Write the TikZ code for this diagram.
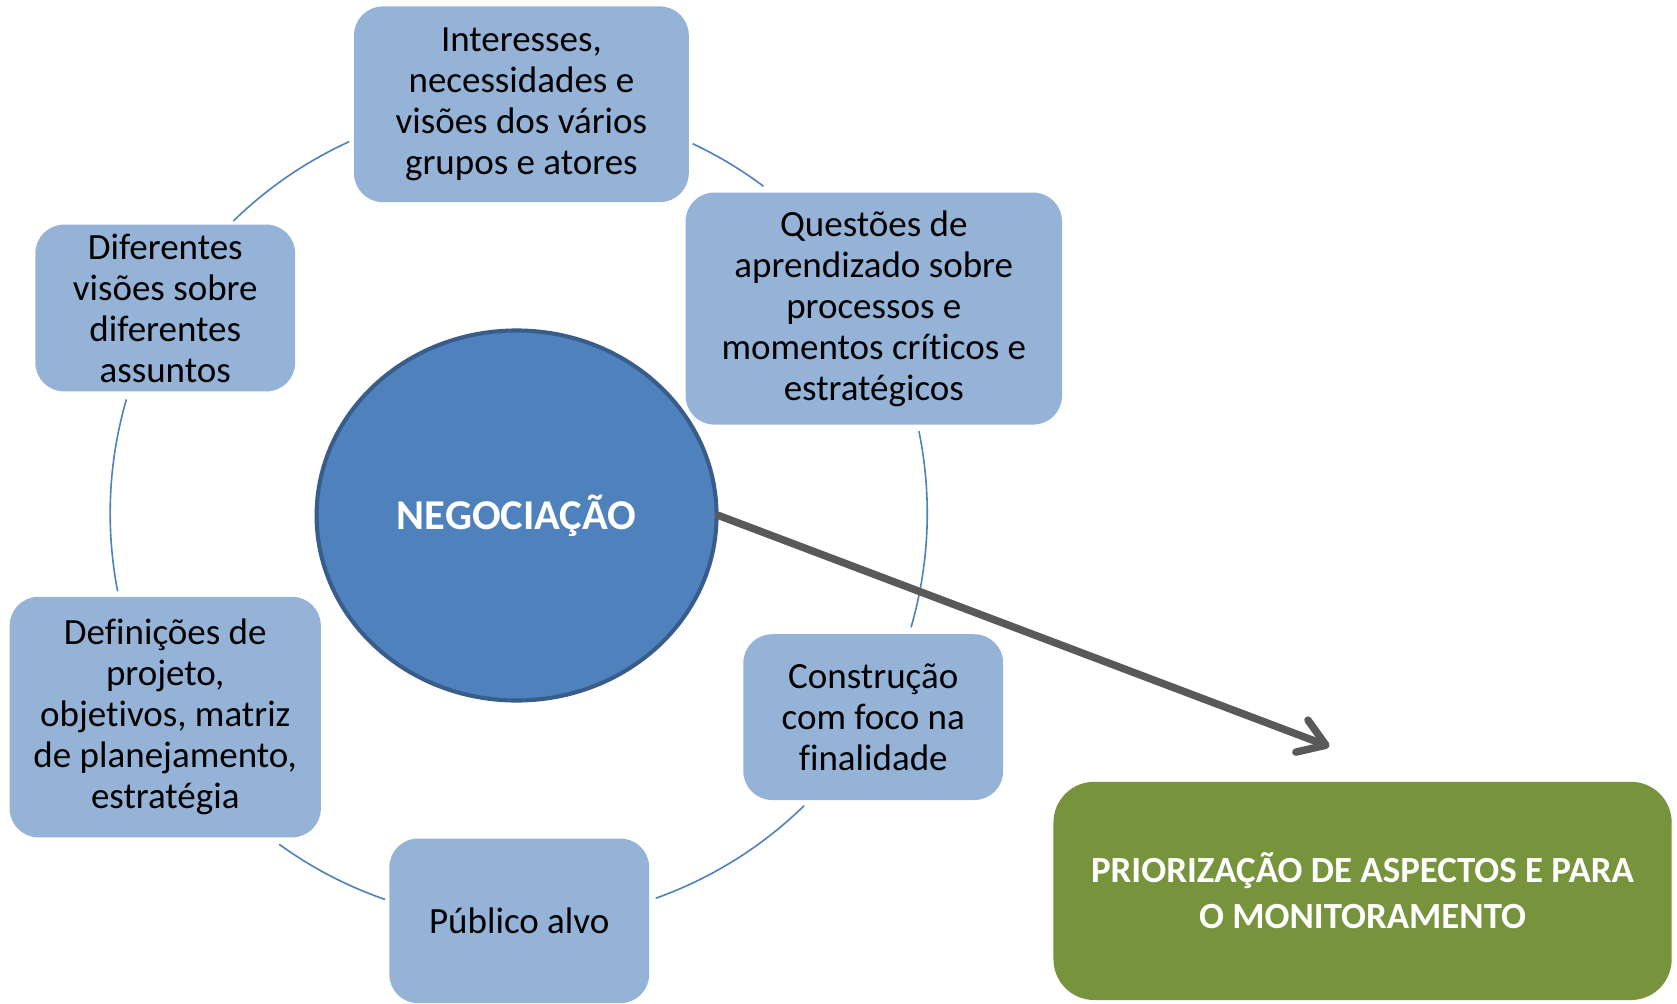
\documentclass[tikz,border=0pt]{standalone}
\usepackage{fontspec}
\setmainfont{Carlito}[Ligatures={NoCommon,NoContextual},RawFeature={-liga;-calt;-clig}]
\usetikzlibrary{arrows.meta,shapes.geometric}
\definecolor{boxblue}{HTML}{95B3D7}
\definecolor{ringblue}{HTML}{4F81BD}
\definecolor{ellfill}{HTML}{4F81BD}
\definecolor{elldraw}{HTML}{385D8A}
\definecolor{greenbox}{HTML}{77933C}
\definecolor{arrowgray}{HTML}{595959}
\begin{document}
\begin{tikzpicture}[x=1pt,y=1pt,
  bluebox/.style={rectangle, rounded corners=27pt, fill=boxblue, inner sep=0pt, align=center,
    font=\fontsize{34.6}{38.3}\selectfont, text=black},
  ring/.style={draw=ringblue, line width=1.5pt},
  bigarrow/.style={draw=arrowgray, line width=7pt, line cap=round,
    -{Straight Barb[length=24pt,width=32pt,line cap=round,line join=round]}}]
\useasboundingbox (0,0) rectangle (1568,938);
\coordinate (c) at (485,458);
% ring arcs
\draw[ring] (c) ++(114.5:382) arc[start angle=114.5, end angle=134.3, radius=382];
\draw[ring] (c) ++(53.2:382) arc[start angle=53.2, end angle=64.8, radius=382];
\draw[ring] (c) ++(-16.2:382) arc[start angle=-16.2, end angle=11.6, radius=382];
\draw[ring] (c) ++(-70.4:382) arc[start angle=-70.4, end angle=-45.7, radius=382];
\draw[ring] (c) ++(-125.9:382) arc[start angle=-125.9, end angle=-109.1, radius=382];
\draw[ring] (c) ++(163.8:382) arc[start angle=163.8, end angle=191, radius=382];
% boxes
\node[bluebox, minimum width=313pt, minimum height=183pt] (interesses) at (487.5,840.5)
  {Interesses,\\necessidades e\\visões dos vários\\grupos e atores};
\node[bluebox, minimum width=352pt, minimum height=217pt] (questoes) at (817,649.5)
  {Questões de\\aprendizado sobre\\processos e\\momentos críticos e\\estratégicos};
\node[bluebox, minimum width=243pt, minimum height=155pt] (construcao) at (816.5,267.5)
  {Construção\\com foco na\\finalidade};
\node[bluebox, minimum width=243pt, minimum height=154pt] (publico) at (485.5,77)
  {Público alvo};
\node[bluebox, minimum width=291pt, minimum height=225pt] (definicoes) at (154.5,267.5)
  {Definições de\\projeto,\\objetivos, matriz\\de planejamento,\\estratégia};
\node[bluebox, minimum width=243pt, minimum height=156pt] (diferentes) at (154.5,650)
  {Diferentes\\visões sobre\\diferentes\\assuntos};
% central ellipse
\node[ellipse, fill=ellfill, draw=elldraw, line width=3.8pt, minimum width=374pt, minimum height=346pt,
  inner sep=0pt, text=white, font=\bfseries\fontsize{39.7}{43}\selectfont] (neg) at (483,456) {NEGOCIAÇÃO};
% green box
\node[rectangle, rounded corners=38pt, fill=greenbox, minimum width=578pt, minimum height=204pt,
  inner sep=0pt, align=center, text=white, font=\bfseries\fontsize{34.5}{43}\selectfont] (prior) at (1274,105)
  {PRIORIZAÇÃO DE ASPECTOS E PARA\\O MONITORAMENTO};
% arrow
\coordinate (tipend) at (1243,240);
\draw[bigarrow] (neg.east) -- (tipend);
\end{tikzpicture}
\end{document}
